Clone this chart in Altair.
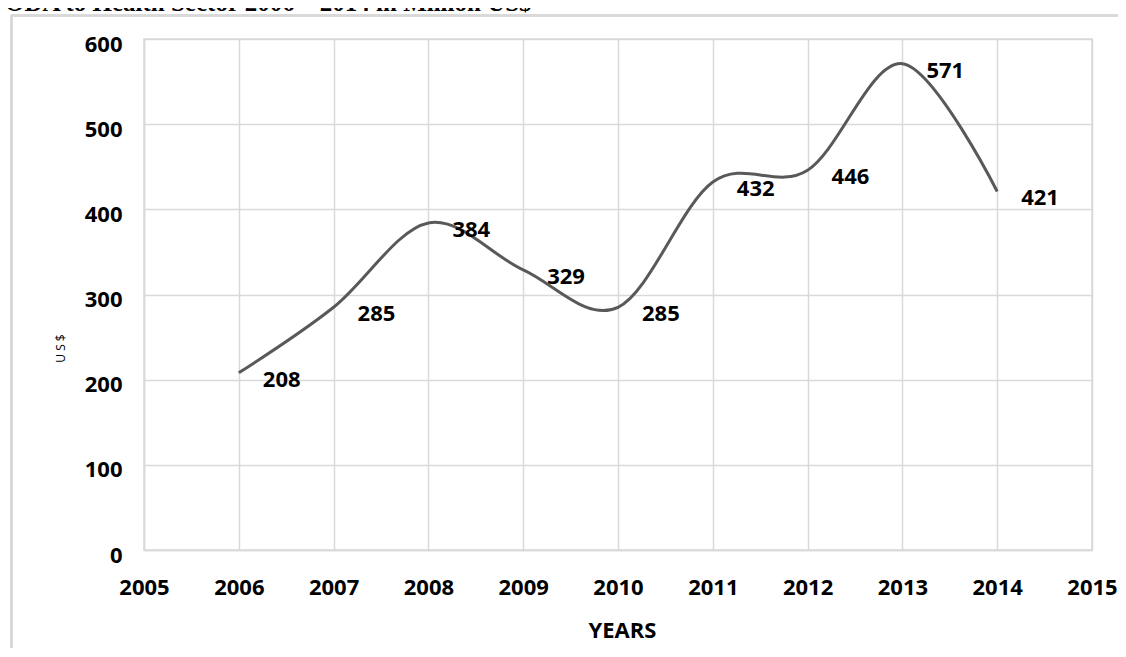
import altair as alt
import pandas as pd

years = [2006, 2007, 2008, 2009, 2010, 2011, 2012, 2013, 2014]
values = [208, 285, 384, 329, 285, 432, 446, 571, 421]
x_ticks = [2005, 2006, 2007, 2008, 2009, 2010, 2011, 2012, 2013, 2014, 2015]
y_ticks = [0, 100, 200, 300, 400, 500, 600]
title_text = ["ODA to Health Sector 2006 \u2013 2014 in Million US$"]

df = pd.DataFrame({"year": years, "value": values})
tdf = pd.DataFrame({"t": title_text})

FONT = "Open Sans"
GRID = "#d9d9d9"
LBL = 22

x_enc = alt.X(
    "year:Q",
    scale=alt.Scale(domain=[2005, 2015], nice=False, zero=False),
    axis=alt.Axis(
        values=x_ticks, format="d", title="YEARS", grid=True,
        ticks=False, labelPadding=37, labelBaseline="middle",
        labelFlush=False, labelOverlap=False,
        titleX=478, titleY=80, titleBaseline="middle",
    ),
)
y_enc = alt.Y(
    "value:Q",
    scale=alt.Scale(domain=[0, 600], nice=False),
    axis=alt.Axis(
        values=y_ticks, title="U S $", grid=True, ticks=False,
        labelPadding=22, labelOffset=5, labelFlush=False, labelOverlap=False,
        titleX=-84, titleY=309, titleAngle=-90, titleAlign="center",
        titleBaseline="middle", titleFontSize=12, titleFontWeight="normal",
    ),
)

line = alt.Chart(df).mark_line(
    interpolate="cardinal", color="#595959", strokeWidth=3
).encode(x=x_enc, y=y_enc)

labels = alt.Chart(df).mark_text(
    align="left", baseline="middle", dx=24, dy=7,
    font=FONT, fontWeight="bold", fontSize=LBL, color="#000000",
).encode(x="year:Q", y="value:Q", text="value:Q")

frame_top = alt.Chart(df).mark_rule(color=GRID, strokeWidth=2).encode(
    x=alt.value(-132.5), x2=alt.value(1000), y=alt.value(-23.5)
)
frame_left = alt.Chart(df).mark_rule(color=GRID, strokeWidth=2).encode(
    x=alt.value(-132.5), y=alt.value(-23.5), y2=alt.value(700)
)

title = alt.Chart(tdf).mark_text(
    align="left", baseline="alphabetic", font="Liberation Serif",
    fontSize=25, fontWeight="bold", color="#000000",
).encode(x=alt.value(-139), y=alt.value(-28), text="t:N")

chart = alt.layer(frame_top, frame_left, line, labels, title).properties(
    width=948,
    height=511,
    autosize="none",
    padding={"left": 136, "top": 31, "right": 26, "bottom": 98},
).configure_axis(
    labelFont=FONT, labelFontSize=LBL, labelFontWeight="bold", labelColor="#000000",
    titleFont=FONT, titleFontSize=22, titleFontWeight="bold", titleColor="#000000",
    gridColor=GRID, gridWidth=1.5, domainColor=GRID, domainWidth=1.5,
).configure_view(stroke=GRID, strokeWidth=1.5)

chart.save("out.html", embed_options={"renderer": "svg", "actions": False})
